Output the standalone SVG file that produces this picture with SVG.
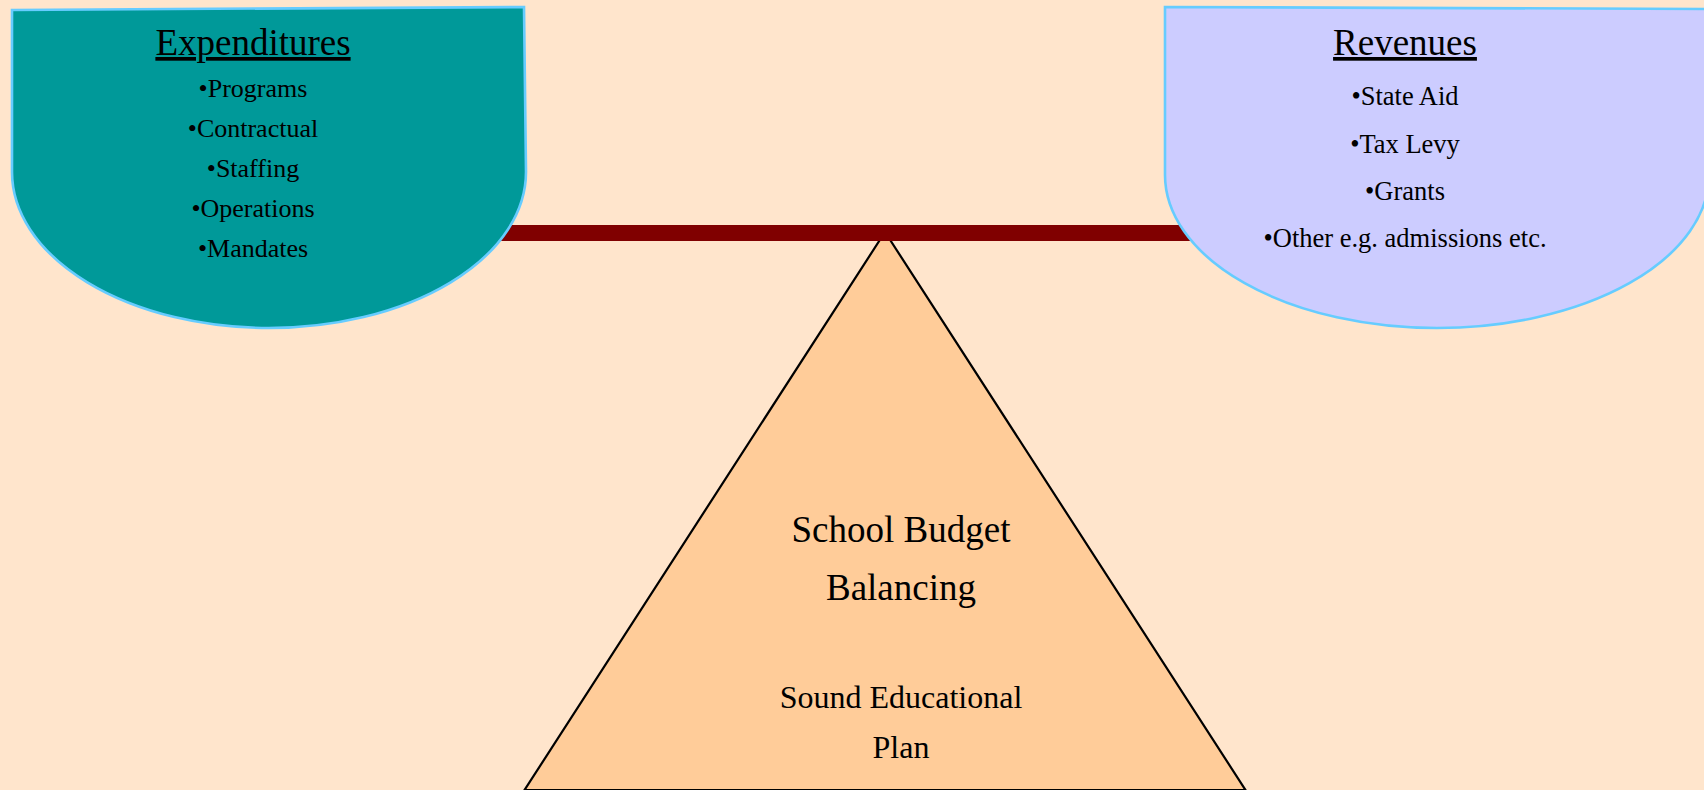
<svg xmlns="http://www.w3.org/2000/svg" width="1704" height="790" viewBox="0 0 1704 790">
  <style>
    .t { font-family: "Liberation Serif", "Times New Roman", serif; fill: #000000; text-anchor: middle; }
    .title { font-size: 37px; text-decoration: underline; }
    .iteml { font-size: 26px; }
    .itemr { font-size: 26.5px; }
    .big { font-size: 37px; }
    .mid { font-size: 32px; }
    .pan { stroke: #66CCFF; stroke-width: 2.6; }
  </style>
  <rect x="0" y="0" width="1704" height="790" fill="#FFE5CC"/>

  <g id="fulcrum">
    <polygon points="885,232 1245.5,790 524.5,790" fill="#FFCC99" stroke="#000000" stroke-width="2.2" stroke-linejoin="miter"/>
    <text class="t big" x="901" y="542">School Budget</text>
    <text class="t big" x="901" y="600">Balancing</text>
    <text class="t mid" x="901" y="708">Sound Educational</text>
    <text class="t mid" x="901" y="758">Plan</text>
  </g>

  <g id="connectors">
    <rect id="beam" x="470" y="225" width="740" height="16" fill="#800000"/>
  </g>

  <g id="expenditures">
    <path class="pan" fill="#009999" d="M12,10 L524,7 L526,172 A257,156 0 0 1 12,172 Z"/>
    <text class="t title" x="253" y="55">Expenditures</text>
    <text class="t iteml" x="253" y="97">•Programs</text>
    <text class="t iteml" x="253" y="137">•Contractual</text>
    <text class="t iteml" x="253" y="177">•Staffing</text>
    <text class="t iteml" x="253" y="217">•Operations</text>
    <text class="t iteml" x="253" y="257">•Mandates</text>
  </g>

  <g id="revenues">
    <path class="pan" fill="#CCCCFF" d="M1165,7 L1709,9 L1709,175 A272,153 0 0 1 1165,175 Z"/>
    <text class="t title" x="1405" y="55">Revenues</text>
    <text class="t itemr" x="1405" y="105">•State Aid</text>
    <text class="t itemr" x="1405" y="153">•Tax Levy</text>
    <text class="t itemr" x="1405" y="200">•Grants</text>
    <text class="t itemr" x="1405" y="247">•Other e.g. admissions etc.</text>
  </g>
</svg>
